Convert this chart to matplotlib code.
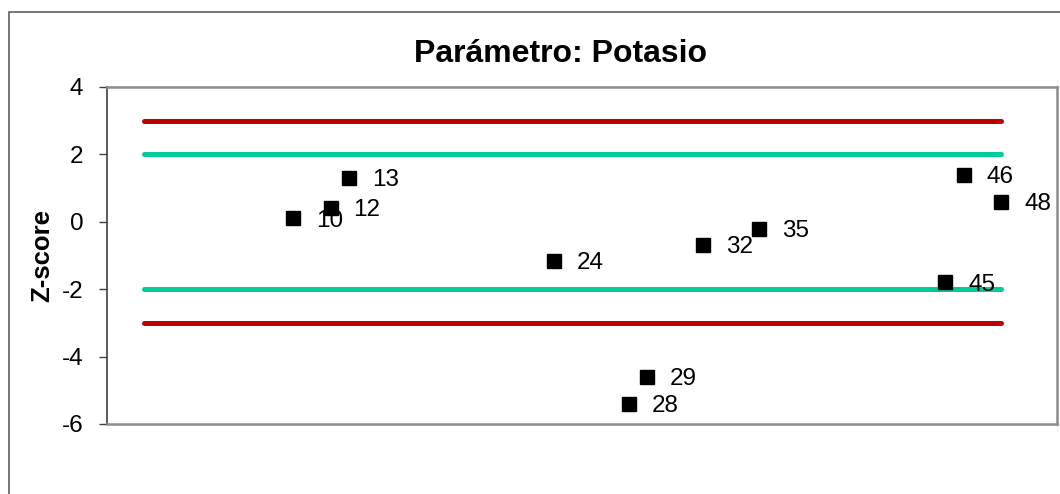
import matplotlib
matplotlib.use("Agg")
import matplotlib.pyplot as plt
from matplotlib.patches import Rectangle

plt.rcParams['font.family'] = ['Liberation Sans', 'DejaVu Sans']

labs = [10, 12, 13, 24, 28, 29, 32, 35, 45, 46, 48]
zscores = [0.1, 0.4, 1.3, -1.15, -5.4, -4.6, -0.7, -0.2, -1.8, 1.4, 0.6]
limit_x = [2, 48]
warn_levels = [2, -2]
action_levels = [3, -3]
yticks = [4, 2, 0, -2, -4, -6]

fig = plt.figure(figsize=(10.6, 4.94), dpi=100)
ax = fig.add_axes([107/1060, 1-424/494, (1057-107)/1060, (424-87)/494])

for lv in action_levels:
    ax.plot(limit_x, [lv, lv], color='#C00000', lw=3.6, solid_capstyle='round', zorder=2)
for lv in warn_levels:
    ax.plot(limit_x, [lv, lv], color='#00CC99', lw=3.6, solid_capstyle='round', zorder=2)

ax.plot(labs, zscores, linestyle='none', marker='s', markersize=10.5,
        color='black', zorder=3)
for x, y in zip(labs, zscores):
    ax.annotate(str(x), (x, y), xytext=(16.5, -1.5), textcoords='offset points',
                ha='left', va='center', fontsize=17.5, zorder=4)

ax.set_xlim(0, 51)
ax.set_ylim(-6, 4)
ax.set_yticks(yticks)
ax.set_yticklabels([str(t) for t in yticks], fontsize=17.5)
ax.set_xticks([])
ax.tick_params(axis='y', direction='out', length=6, width=1, pad=11, color='#404040')
for s in ['top', 'right', 'bottom']:
    ax.spines[s].set_color('#8c8c8c')
    ax.spines[s].set_linewidth(1.8)
ax.spines['left'].set_color('#404040')
ax.spines['left'].set_linewidth(1.2)

ax.set_ylabel('Z-score', fontsize=18.5, fontweight='bold')
ax.yaxis.set_label_coords(-0.056, 0.5)

fig.text(561/1060, 1-54/494, 'Parámetro: Potasio', fontsize=23, fontweight='bold',
         ha='center', va='center')

frame = Rectangle((9/1060, -0.1), 1.2, (1 - 12/494) + 0.1, transform=fig.transFigure,
                  fill=False, edgecolor='#606060', lw=1.2, clip_on=False)
fig.patches.append(frame)

fig.savefig('out.png', dpi=100)
